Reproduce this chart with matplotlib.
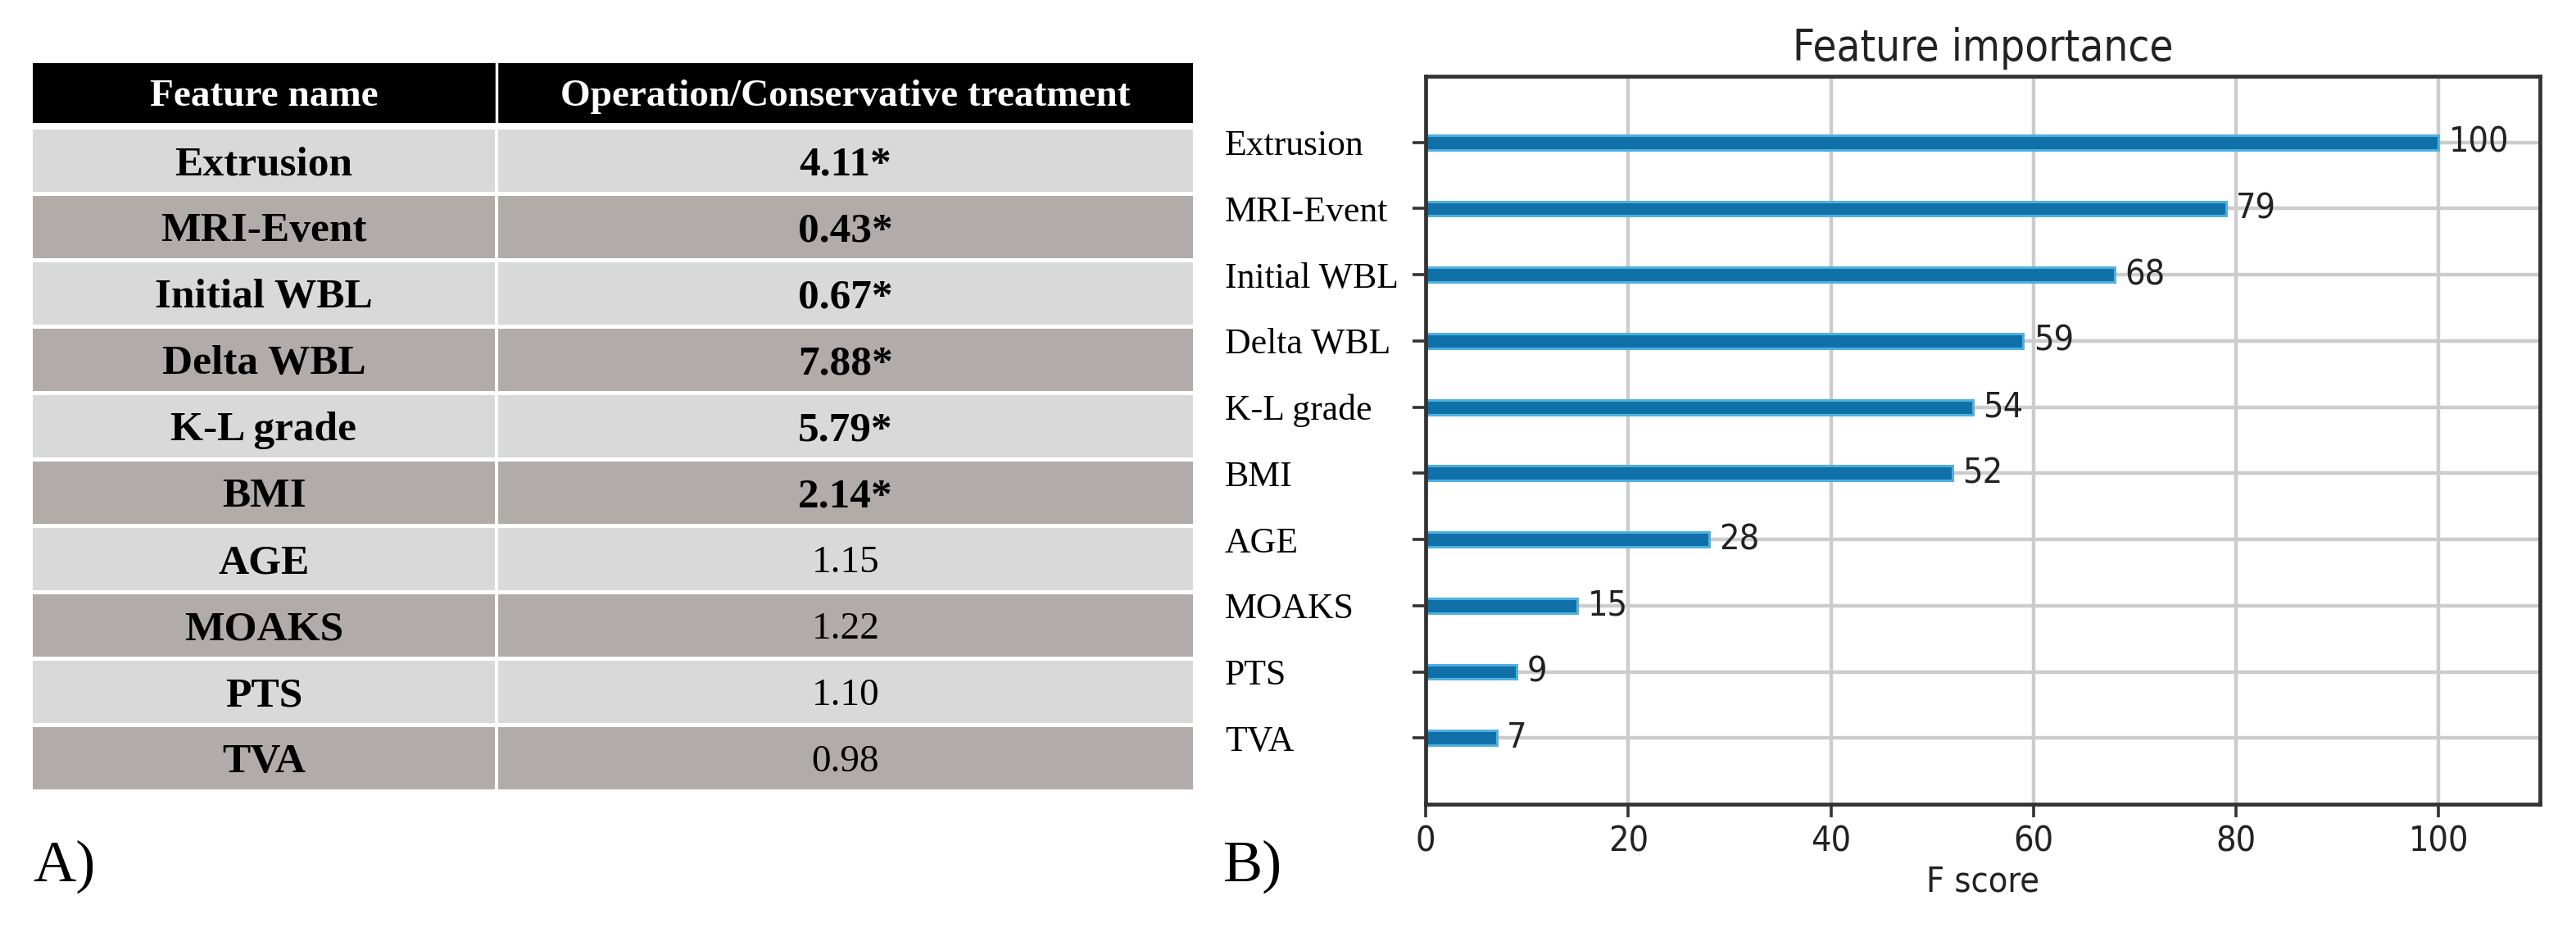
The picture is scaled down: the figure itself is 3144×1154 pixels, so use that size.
import matplotlib
matplotlib.use('Agg')
import matplotlib.pyplot as plt
from matplotlib import font_manager
from matplotlib.patches import Rectangle

# ---- data ----
features = ['Extrusion', 'MRI-Event', 'Initial WBL', 'Delta WBL', 'K-L grade',
            'BMI', 'AGE', 'MOAKS', 'PTS', 'TVA']
odds_ratio = ['4.11', '0.43', '0.67', '7.88', '5.79', '2.14', '1.15', '1.22', '1.10', '0.98']
significant = [True, True, True, True, True, True, False, False, False, False]
f_score = [100, 79, 68, 59, 54, 52, 28, 15, 9, 7]
col_headers = ['Feature name', 'Operation/Conservative treatment']
xticks = [0, 20, 40, 60, 80, 100]

W, H, DPI = 3144, 1154, 100
SERIF = ['Liberation Serif', 'DejaVu Serif']
SANS = ['DejaVu Sans']

# the right panel in the source looks horizontally squeezed, use condensed DejaVu if it is there
has_cond = any('DejaVuSansCondensed' in f for f in font_manager.findSystemFonts())
if has_cond:
    sans_kw = dict(family=SANS, fontstretch='condensed')
    fs_tick, fs_title = 31, 38
else:
    sans_kw = dict(family=SANS)
    fs_tick, fs_title = 29, 36

fig = plt.figure(figsize=(W / DPI, H / DPI), dpi=DPI)

# ---- panel A: table, drawn in pixel coords ----
tab = fig.add_axes([0, 0, 1, 1])
tab.set_xlim(0, W)
tab.set_ylim(H, 0)
tab.axis('off')

cols = [(40, 604), (608, 1456)]   # x spans of the two columns
head_top, head_bot = 77, 150
row_top0, row_pitch, row_h = 158, 81, 76
light, dark = '#d9d9d9', '#b1acaa'


def baseline_off(size):
    # half the cap height in pixels, so caps are centred on the row
    return 0.662 * size * DPI / 72 / 2


tab.add_patch(Rectangle((cols[0][0], head_top), cols[1][1] - cols[0][0], head_bot - head_top,
                        color='black', lw=0))
tab.plot([606, 606], [head_top, head_bot], color='white', lw=2.5)
for (x0, x1), txt in zip(cols, col_headers):
    tab.text((x0 + x1) / 2, (head_top + head_bot) / 2 + baseline_off(34), txt,
             ha='center', va='baseline', color='white', fontsize=34,
             fontweight='bold', family=SERIF)

for i, (name, val, sig) in enumerate(zip(features, odds_ratio, significant)):
    top = row_top0 + i * row_pitch
    fc = light if i % 2 == 0 else dark
    for x0, x1 in cols:
        tab.add_patch(Rectangle((x0, top), x1 - x0, row_h, color=fc, lw=0))
    yc = top + row_h / 2
    tab.text(sum(cols[0]) / 2, yc + baseline_off(37), name, ha='center', va='baseline',
             fontsize=37, fontweight='bold', family=SERIF)
    if sig:
        tab.text(sum(cols[1]) / 2, yc + baseline_off(37), val + '*', ha='center',
                 va='baseline', fontsize=37, fontweight='bold', family=SERIF)
    else:
        tab.text(sum(cols[1]) / 2, yc + baseline_off(34), val, ha='center',
                 va='baseline', fontsize=34, family=SERIF)

tab.text(40, 1075, 'A)', fontsize=52, family=SERIF, va='baseline')
tab.text(1493, 1075, 'B)', fontsize=52, family=SERIF, va='baseline')

# ---- panel B: xgboost style importance plot ----
ax = fig.add_axes([1740 / W, 1 - 981 / H, 1360 / W, 888 / H])
ylocs = list(range(len(features)))
names_rev = features[::-1]
vals_rev = f_score[::-1]

ax.set_axisbelow(True)
ax.barh(ylocs, vals_rev, height=0.22, color='#0f71a8', edgecolor='#4fb0e0', linewidth=2.2)
for x, y in zip(vals_rev, ylocs):
    ax.text(x + 1, y, str(x), va='center', fontsize=fs_tick, color='#222222', **sans_kw)

ax.set_xlim(0, 110)
ax.set_ylim(-1, len(features))
ax.set_xticks(xticks)
ax.set_xticklabels([str(t) for t in xticks], fontsize=fs_tick, color='#222222', **sans_kw)
ax.set_yticks(ylocs)
ax.set_yticklabels(names_rev, fontsize=31.5, family=SERIF, ha='left')
ax.tick_params(axis='both', length=11.5, width=2.6, color='#333333')
ax.tick_params(axis='y', pad=165)
ax.tick_params(axis='x', pad=6)
ax.grid(True, color='#cccccc', linewidth=3.2)
for sp in ax.spines.values():
    sp.set_linewidth(3.4)
    sp.set_color('#333333')

ax.set_title('Feature importance', fontsize=fs_title, pad=14, color='#222222', **sans_kw)
ax.set_xlabel('F score', fontsize=fs_tick, labelpad=5, color='#222222', **sans_kw)

fig.savefig('out.png', dpi=DPI)
